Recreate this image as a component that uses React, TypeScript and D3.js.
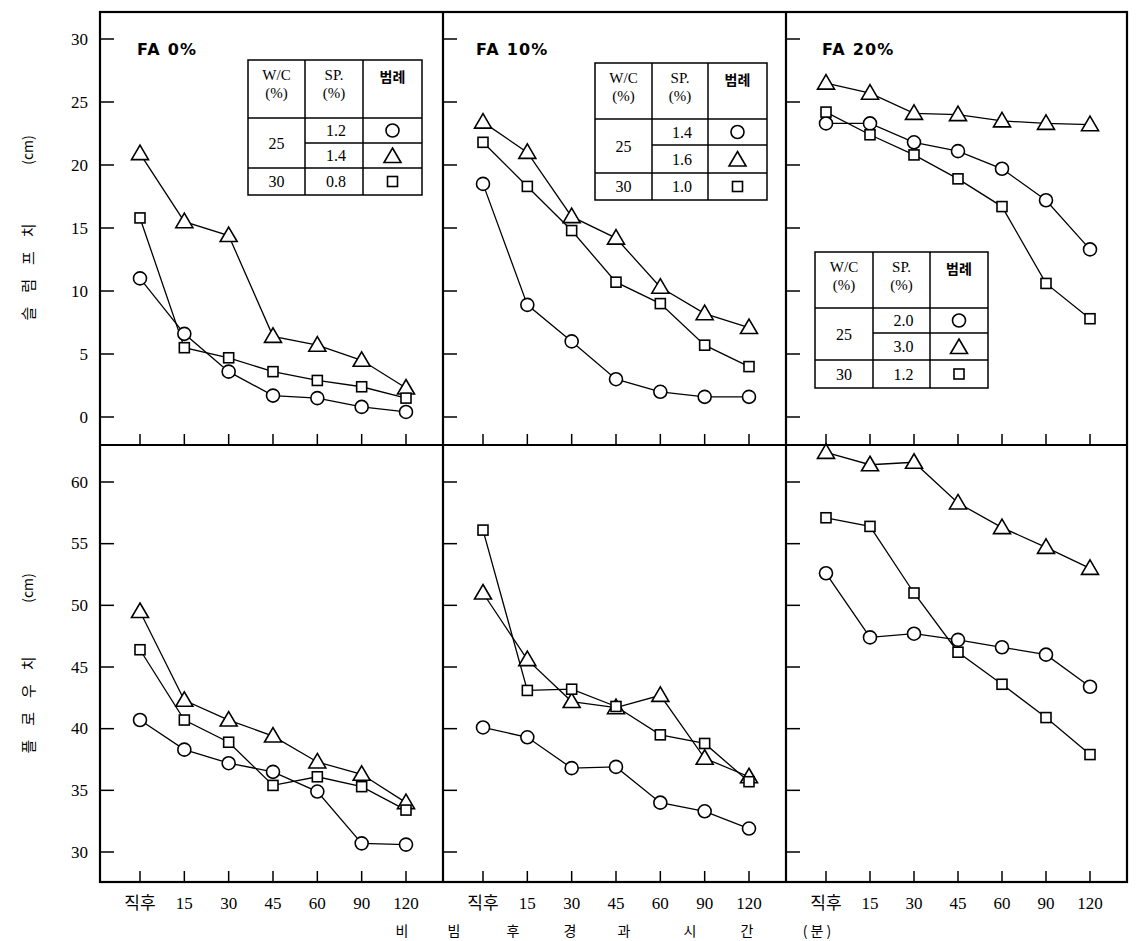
import React, { useEffect, useRef } from "react";
import * as d3 from "d3";

const times = ["직후", "15", "30", "45", "60", "90", "120"];
const slumpTicks = [0, 5, 10, 15, 20, 25, 30];
const flowTicks = [30, 35, 40, 45, 50, 55, 60];
const titles = ["FA 0%", "FA 10%", "FA 20%"];

// slump values (cm): circle / triangle / square
const slumpFA0Circle = [11.0, 6.6, 3.6, 1.7, 1.5, 0.8, 0.4];
const slumpFA0Triangle = [20.9, 15.5, 14.4, 6.4, 5.7, 4.5, 2.3];
const slumpFA0Square = [15.8, 5.5, 4.7, 3.6, 2.9, 2.4, 1.5];
const slumpFA10Circle = [18.5, 8.9, 6.0, 3.0, 2.0, 1.6, 1.6];
const slumpFA10Triangle = [23.4, 21.0, 15.9, 14.2, 10.3, 8.2, 7.1];
const slumpFA10Square = [21.8, 18.3, 14.8, 10.7, 9.0, 5.7, 4.0];
const slumpFA20Circle = [23.3, 23.3, 21.8, 21.1, 19.7, 17.2, 13.3];
const slumpFA20Triangle = [26.5, 25.7, 24.1, 24.0, 23.5, 23.3, 23.2];
const slumpFA20Square = [24.2, 22.4, 20.8, 18.9, 16.7, 10.6, 7.8];

// flow values (cm)
const flowFA0Circle = [40.7, 38.3, 37.2, 36.5, 34.9, 30.7, 30.6];
const flowFA0Triangle = [49.5, 42.3, 40.7, 39.4, 37.3, 36.3, 34.0];
const flowFA0Square = [46.4, 40.7, 38.9, 35.4, 36.1, 35.3, 33.4];
const flowFA10Circle = [40.1, 39.3, 36.8, 36.9, 34.0, 33.3, 31.9];
const flowFA10Triangle = [51.0, 45.6, 42.2, 41.7, 42.7, 37.6, 36.1];
const flowFA10Square = [56.1, 43.1, 43.2, 41.8, 39.5, 38.8, 35.7];
const flowFA20Circle = [52.6, 47.4, 47.7, 47.2, 46.6, 46.0, 43.4];
const flowFA20Triangle = [62.4, 61.4, 61.6, 58.3, 56.3, 54.7, 53.0];
const flowFA20Square = [57.1, 56.4, 51.0, 46.2, 43.6, 40.9, 37.9];

// legend tables
const legendWC = ["25", "30"];
const spFA0 = ["1.2", "1.4", "0.8"];
const spFA10 = ["1.4", "1.6", "1.0"];
const spFA20 = ["2.0", "3.0", "1.2"];

const markers = ["circle", "triangle", "square"];
const serif = "'Liberation Serif', 'DejaVu Serif', 'Noto Sans CJK KR', serif";
const kr = "'Noto Sans CJK KR', sans-serif";

const App = () => {
  const svgRef = useRef(null);

  useEffect(() => {
    const svg = d3.select(svgRef.current);
    svg.selectAll("*").remove();

    const colX = [[100, 443], [443, 786], [786, 1127]];
    const rowY = [[12, 445], [445, 882]];

    const ySlump = d3.scaleLinear().domain([0, 30]).range([417, 39]);
    const yFlow = d3.scaleLinear().domain([30, 60]).range([852, 482]);

    const panels = [
      {
        slump: [slumpFA0Circle, slumpFA0Triangle, slumpFA0Square],
        flow: [flowFA0Circle, flowFA0Triangle, flowFA0Square],
        sp: spFA0,
        table: { x: 248, y: 60, cols: [57, 58, 59], rows: [58, 25, 25, 27] },
        titleX: 137,
      },
      {
        slump: [slumpFA10Circle, slumpFA10Triangle, slumpFA10Square],
        flow: [flowFA10Circle, flowFA10Triangle, flowFA10Square],
        sp: spFA10,
        table: { x: 595, y: 63, cols: [57, 56, 59], rows: [56, 26, 28, 27] },
        titleX: 476,
      },
      {
        slump: [slumpFA20Circle, slumpFA20Triangle, slumpFA20Square],
        flow: [flowFA20Circle, flowFA20Triangle, flowFA20Square],
        sp: spFA20,
        table: { x: 815, y: 252, cols: [58, 57, 58], rows: [56, 25, 27, 28] },
        titleX: 822,
      },
    ];

    const drawMarker = (g, type, x, y) => {
      if (type === "circle") {
        g.append("circle").attr("cx", x).attr("cy", y).attr("r", 6.5)
          .attr("fill", "#fff").attr("stroke", "#000").attr("stroke-width", 1.6);
      } else if (type === "triangle") {
        g.append("path")
          .attr("d", `M${x},${y - 8.5}L${x + 8.5},${y + 6}L${x - 8.5},${y + 6}Z`)
          .attr("fill", "#fff").attr("stroke", "#000").attr("stroke-width", 1.6)
          .attr("stroke-linejoin", "miter");
      } else {
        g.append("rect").attr("x", x - 5).attr("y", y - 5).attr("width", 10).attr("height", 10)
          .attr("fill", "#fff").attr("stroke", "#000").attr("stroke-width", 1.6);
      }
    };

    const drawTable = (g, t, sp) => {
      const [c1, c2, c3] = t.cols;
      const [r0, r1, r2, r3] = t.rows;
      const x0 = t.x, x1 = x0 + c1, x2 = x1 + c2, x3 = x2 + c3;
      const y0 = t.y, y1 = y0 + r0, y2 = y1 + r1, y3 = y2 + r2, y4 = y3 + r3;
      const tg = g.append("g");
      tg.append("rect").attr("x", x0).attr("y", y0).attr("width", x3 - x0).attr("height", y4 - y0)
        .attr("fill", "#fff").attr("stroke", "#000").attr("stroke-width", 1.5);
      const lines = [
        [x1, y0, x1, y4], [x2, y0, x2, y4],
        [x0, y1, x3, y1], [x1, y2, x3, y2], [x0, y3, x3, y3],
      ];
      lines.forEach(([a, b, c, d]) =>
        tg.append("line").attr("x1", a).attr("y1", b).attr("x2", c).attr("y2", d)
          .attr("stroke", "#000").attr("stroke-width", 1.5));
      const txt = (x, y, s, fam = serif, size = 16) =>
        tg.append("text").attr("x", x).attr("y", y).attr("text-anchor", "middle")
          .attr("dominant-baseline", "central").attr("font-family", fam)
          .attr("font-size", size).text(s);
      txt((x0 + x1) / 2, y0 + 15, "W/C", serif, 15);
      txt((x0 + x1) / 2, y0 + 33, "(%)", serif, 15);
      txt((x1 + x2) / 2, y0 + 15, "SP.", serif, 15);
      txt((x1 + x2) / 2, y0 + 33, "(%)", serif, 15);
      txt((x2 + x3) / 2, y0 + 16, "범례", kr, 14).attr("font-weight", "bold");
      txt((x0 + x1) / 2, (y1 + y3) / 2, legendWC[0]);
      txt((x0 + x1) / 2, (y3 + y4) / 2, legendWC[1]);
      txt((x1 + x2) / 2 + 2, (y1 + y2) / 2, sp[0]);
      txt((x1 + x2) / 2 + 2, (y2 + y3) / 2, sp[1]);
      txt((x1 + x2) / 2 + 2, (y3 + y4) / 2, sp[2]);
      drawMarker(tg, "circle", (x2 + x3) / 2, (y1 + y2) / 2);
      drawMarker(tg, "triangle", (x2 + x3) / 2, (y2 + y3) / 2 + 1);
      drawMarker(tg, "square", (x2 + x3) / 2, (y3 + y4) / 2);
    };

    panels.forEach((p, i) => {
      const [px0, px1] = colX[i];
      const x = d3.scalePoint().domain(times).range([px0 + 40, px1 - 37]);

      [0, 1].forEach((r) => {
        const [, py1] = rowY[r];
        const y = r === 0 ? ySlump : yFlow;
        const ticks = r === 0 ? slumpTicks : flowTicks;
        const series = r === 0 ? p.slump : p.flow;
        const g = svg.append("g");

        // y ticks inside the left border
        ticks.forEach((v) => {
          g.append("line").attr("x1", px0).attr("x2", px0 + 14)
            .attr("y1", y(v)).attr("y2", y(v)).attr("stroke", "#000").attr("stroke-width", 1.5);
        });
        // x ticks up from the bottom border
        times.forEach((t) => {
          g.append("line").attr("x1", x(t)).attr("x2", x(t))
            .attr("y1", py1).attr("y2", py1 - 11).attr("stroke", "#000").attr("stroke-width", 1.5);
        });

        // series lines
        const line = d3.line().x((d, j) => x(times[j])).y((d) => y(d));
        series.forEach((vals) => {
          g.append("path").attr("d", line(vals)).attr("fill", "none")
            .attr("stroke", "#000").attr("stroke-width", 1.3);
        });
        series.forEach((vals, k) => {
          vals.forEach((v, j) => drawMarker(g, markers[k], x(times[j]), y(v)));
        });

        if (i === 0) {
          ticks.forEach((v) => {
            g.append("text").attr("x", 88).attr("y", y(v)).attr("text-anchor", "end")
              .attr("dominant-baseline", "central").attr("font-family", serif)
              .attr("font-size", 17).text(v);
          });
        }
        if (r === 0) {
          g.append("text").attr("x", p.titleX).attr("y", 55)
            .attr("font-family", "'DejaVu Sans', sans-serif").attr("font-weight", "bold")
            .attr("font-size", 16).attr("letter-spacing", 1.2).text(titles[i]);
          drawTable(g, p.table, p.sp);
        } else {
          times.forEach((t) => {
            g.append("text").attr("x", x(t)).attr("y", 903).attr("text-anchor", "middle")
              .attr("dominant-baseline", "central").attr("font-family", serif)
              .attr("font-size", 17).text(t);
          });
        }
      });
    });

    // frame
    const frame = svg.append("g").attr("stroke", "#000").attr("stroke-width", 2.2).attr("fill", "none");
    frame.append("rect").attr("x", 100).attr("y", 12).attr("width", 1027).attr("height", 870);
    frame.append("line").attr("x1", 443).attr("x2", 443).attr("y1", 12).attr("y2", 882);
    frame.append("line").attr("x1", 786).attr("x2", 786).attr("y1", 12).attr("y2", 882);
    frame.append("line").attr("x1", 100).attr("x2", 1127).attr("y1", 445).attr("y2", 445);

    // y axis titles
    const yTitle = (cx, cy, label, unitY) => {
      svg.append("text").attr("transform", `translate(${cx},${cy}) rotate(-90)`)
        .attr("text-anchor", "middle").attr("dominant-baseline", "central")
        .attr("font-family", kr).attr("font-size", 15).attr("letter-spacing", 14)
        .text(label);
      svg.append("text").attr("transform", `translate(${cx},${unitY}) rotate(-90)`)
        .attr("text-anchor", "middle").attr("dominant-baseline", "central")
        .attr("font-family", kr).attr("font-size", 14).text("(cm)");
    };
    yTitle(27, 265, "슬럼프치", 150);
    yTitle(27, 698, "플로우치", 588);

    // x axis title
    const xTitle = ["비", "빔", "후", "경", "과", "시", "간"];
    const xTitlePos = [402, 454, 513, 570, 624, 690, 747];
    xTitle.forEach((s, j) => {
      svg.append("text").attr("x", xTitlePos[j]).attr("y", 930).attr("text-anchor", "middle")
        .attr("dominant-baseline", "central").attr("font-family", kr).attr("font-size", 14).text(s);
    });
    svg.append("text").attr("x", 817).attr("y", 930).attr("text-anchor", "middle")
      .attr("dominant-baseline", "central").attr("font-family", kr).attr("font-size", 14).text("( 분 )");
  }, []);

  return (
    <svg
      ref={svgRef}
      width={1136}
      height={941}
      style={{ position: "absolute", left: 0, top: 0, background: "#fff" }}
    ></svg>
  );
};

export default App;
